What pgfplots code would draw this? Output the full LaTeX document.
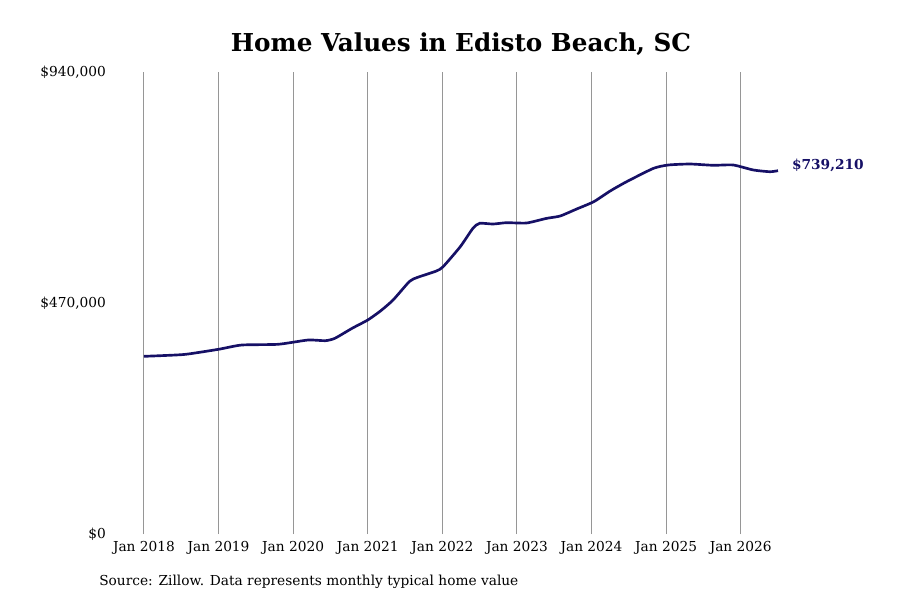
\documentclass[border=0pt]{standalone}
\usepackage{pgfplots}
\pgfplotsset{compat=1.18}
\usepackage{fontspec}
\setmainfont{DejaVu Serif}
\definecolor{navyline}{RGB}{22,16,102}
\definecolor{gridgray}{RGB}{150,150,150}
\begin{document}
\begin{tikzpicture}
\useasboundingbox (0,0) rectangle (675pt,450pt);
\node[font=\fontsize{18.5}{22}\selectfont\bfseries] at (345.75pt,417pt) {Home Values in Edisto Beach, SC};
\node[anchor=west,font=\fontsize{10.3}{12}\selectfont,inner sep=0pt] at (74.25pt,13.5pt) {Source: Zillow. Data represents monthly typical home value};
\begin{axis}[
  at={(80pt,49.5pt)}, anchor=south west,
  scale only axis, width=531.5pt, height=346.5pt,
  xmin=2017.5, xmax=2027, ymin=0, ymax=940000,
  axis line style={draw=none},
  clip=false,
  scaled y ticks=false,
  xtick={2018,2019,2020,2021,2022,2023,2024,2025,2026},
  xticklabels={Jan 2018,Jan 2019,Jan 2020,Jan 2021,Jan 2022,Jan 2023,Jan 2024,Jan 2025,Jan 2026},
  ytick={0,470000,940000},
  yticklabels={{\$0},{\$470,000},{\$940,000}},
  major tick length=0pt,
  tick label style={font=\fontsize{10.3}{12}\selectfont},
  yticklabel style={xshift=3pt},
  xmajorgrids, ymajorgrids=false,
  major grid style={gridgray, line width=0.7pt},
  xticklabel style={yshift=-2pt},
]
\addplot[navyline, line width=2pt, smooth, tension=0.35] coordinates {
(2018.00,361500) (2018.25,363000) (2018.56,365600) (2019.00,375800) (2019.31,384500)
(2019.80,386000) (2020.20,394700) (2020.43,393300) (2020.56,398200) (2020.79,418500)
(2021.00,435400) (2021.17,453700) (2021.34,476100) (2021.56,514000) (2021.67,522300)
(2021.92,535100) (2022.01,543800) (2022.24,584500) (2022.41,622000) (2022.50,632200)
(2022.68,630700) (2022.86,633400) (2023.13,632800) (2023.40,642300) (2023.58,647000)
(2023.80,661200) (2024.03,676100) (2024.25,697900) (2024.47,716800) (2024.83,744000)
(2025.03,750800) (2025.32,752800) (2025.63,750200) (2025.90,750800) (2026.17,740600)
(2026.39,737100) (2026.50,739210)
};
\node[anchor=west, text=navyline, font=\fontsize{10.3}{12}\selectfont\bfseries, xshift=7pt, yshift=4pt] at (axis cs:2026.5,739210) {\$739,210};
\end{axis}
\end{tikzpicture}
\end{document}
